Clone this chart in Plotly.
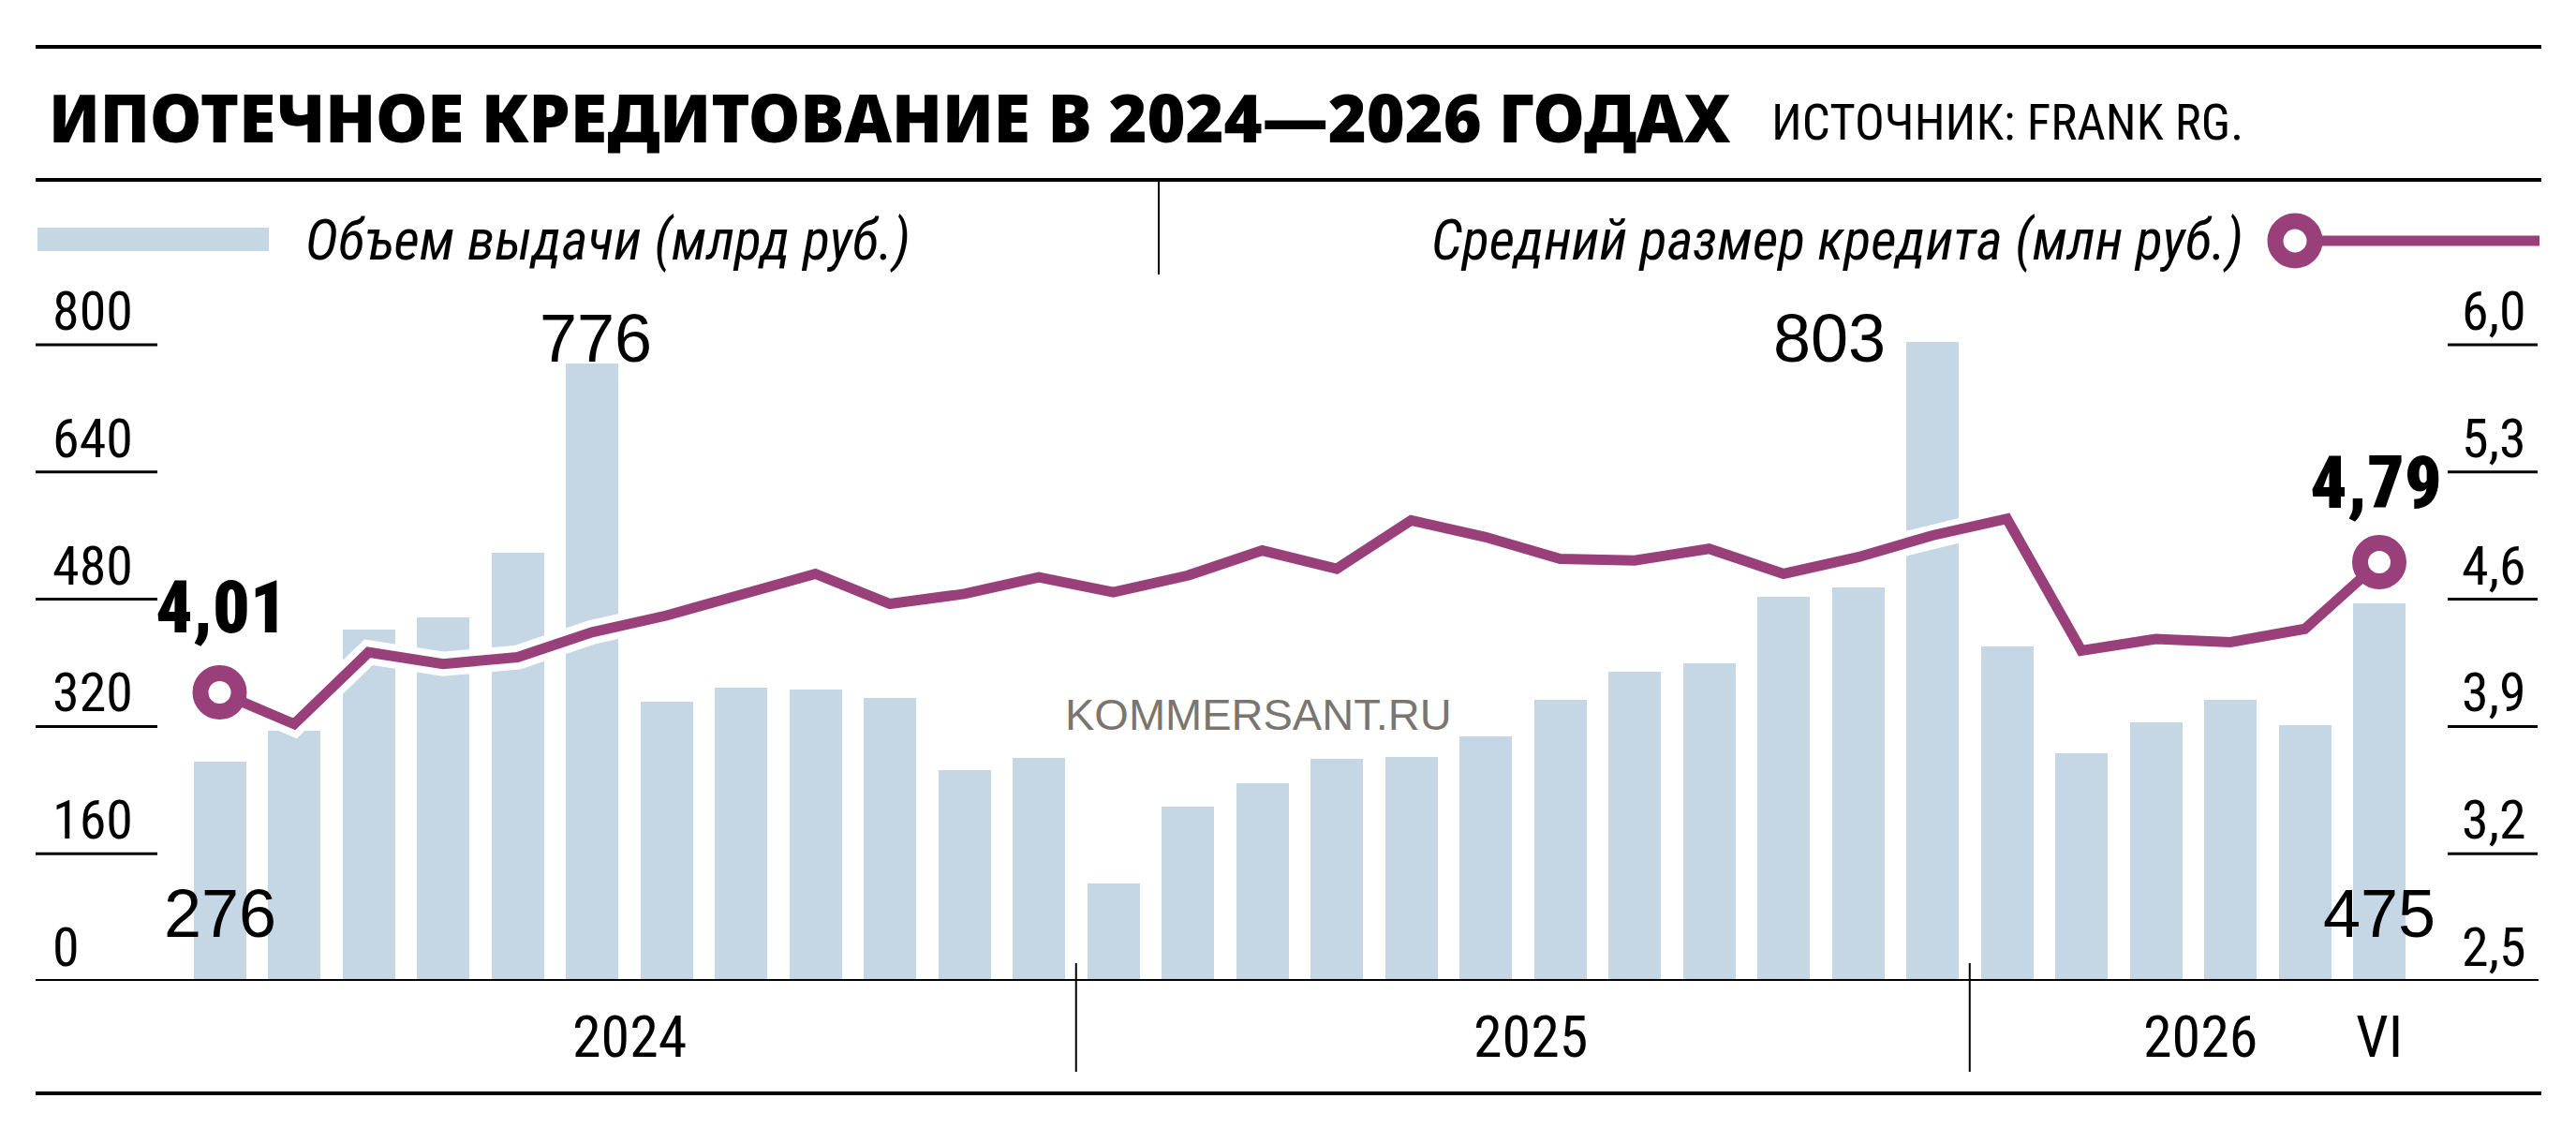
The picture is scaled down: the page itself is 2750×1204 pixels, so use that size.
import plotly.graph_objects as go

W, H = 2750, 1204

# ---------------- data ----------------
months = ["I.24", "II.24", "III.24", "IV.24", "V.24", "VI.24", "VII.24", "VIII.24", "IX.24", "X.24", "XI.24", "XII.24",
          "I.25", "II.25", "III.25", "IV.25", "V.25", "VI.25", "VII.25", "VIII.25", "IX.25", "X.25", "XI.25", "XII.25",
          "I.26", "II.26", "III.26", "IV.26", "V.26", "VI.26"]
volume = [276, 314, 442, 457, 538, 776, 351, 369, 366, 356, 265, 280,
          122, 219, 248, 279, 281, 307, 353, 389, 399, 483, 495, 803,
          420, 286, 325, 353, 322, 475]
avg_loan = [4.01, 3.82, 4.25, 4.18, 4.22, 4.37, 4.47, 4.60, 4.72, 4.54, 4.60, 4.70,
            4.61, 4.71, 4.86, 4.75, 5.04, 4.94, 4.81, 4.80, 4.87, 4.72, 4.82, 4.95,
            5.05, 4.26, 4.33, 4.31, 4.39, 4.79]
left_ticks = [0, 160, 320, 480, 640, 800]
right_ticks = [2.5, 3.2, 3.9, 4.6, 5.3, 6.0]
right_tick_labels = ["2,5", "3,2", "3,9", "4,6", "5,3", "6,0"]
year_labels = ["2024", "2025", "2026", "VI"]
year_label_pos = [5.5, 17.6, 26.6, 29]
year_breaks = [11.5, 23.5]
volume_labels = {0: "276", 5: "776", 23: "803", 29: "475"}
avg_labels = {0: "4,01", 29: "4,79"}

TITLE = "ИПОТЕЧНОЕ КРЕДИТОВАНИЕ В 2024—2026 ГОДАХ"
SOURCE = "ИСТОЧНИК: FRANK RG."
LEG1 = "Объем выдачи (млрд руб.)"
LEG2 = "Средний размер кредита (млн руб.)"
WATERMARK = "KOMMERSANT.RU"

# ---------------- styles ----------------
BAR = "#c5d6e5"
PURPLE = "#99407b"
COND = "Noto Sans Condensed, Roboto Condensed, Liberation Sans Narrow, Roboto, sans-serif"
REG = "Liberation Sans, Arial, sans-serif"
HEAVY = "Noto Sans, Liberation Sans, sans-serif"


def px(x):
    return x / W


def py(y):
    return 1 - y / H


X0, X1 = 194.75, 2579.75     # pixel span of x range [-0.5, 29.5]
Y_BASE = 1047                # pixel of value 0
PPU = 679 / 800              # pixels per unit on left axis
YMAX = 900
Y_TOPPX = Y_BASE - YMAX * PPU
R2 = (2.5, 2.5 + YMAX / 800 * 3.5)
R3 = (2.2815, 2.2815 + YMAX / 800 * (6.092 - 2.2815))

fig = go.Figure()
fig.add_trace(go.Bar(x=months, y=volume, marker=dict(color=BAR, line=dict(width=0)),
                     width=0.7, yaxis="y", hoverinfo="skip"))
fig.add_trace(go.Scatter(x=months, y=avg_loan, mode="lines", yaxis="y3",
                         line=dict(color="white", width=26), hoverinfo="skip"))
fig.add_trace(go.Scatter(x=months, y=avg_loan, mode="lines", yaxis="y3",
                         line=dict(color=PURPLE, width=11), hoverinfo="skip"))
fig.add_trace(go.Scatter(x=[months[0], months[-1]], y=[avg_loan[0], avg_loan[-1]], mode="markers",
                         yaxis="y3", hoverinfo="skip",
                         marker=dict(size=41, color="white", line=dict(color=PURPLE, width=17))))

shapes = []
for yy in (50, 192, 1167):
    shapes.append(dict(type="line", xref="paper", yref="paper", x0=px(38), x1=px(2713),
                       y0=py(yy), y1=py(yy), line=dict(color="black", width=4)))
shapes.append(dict(type="line", xref="paper", yref="paper", x0=px(1237), x1=px(1237),
                   y0=py(193), y1=py(293), line=dict(color="black", width=2)))
shapes.append(dict(type="rect", xref="paper", yref="paper", x0=px(40), x1=px(287),
                   y0=py(268), y1=py(243), fillcolor=BAR, line=dict(width=0)))
shapes.append(dict(type="line", xref="paper", yref="paper", x0=px(2450), x1=px(2711),
                   y0=py(257), y1=py(257), line=dict(color=PURPLE, width=11)))
shapes.append(dict(type="circle", xref="paper", yref="paper", x0=px(2450 - 21), x1=px(2450 + 21),
                   y0=py(257 + 21), y1=py(257 - 21), fillcolor="white",
                   line=dict(color=PURPLE, width=17)))
for t in left_ticks[1:]:
    shapes.append(dict(type="line", xref="paper", yref="y", x0=px(38), x1=px(168),
                       y0=t, y1=t, line=dict(color="black", width=3)))
for t in right_ticks[1:]:
    shapes.append(dict(type="line", xref="paper", yref="y2", x0=px(2613), x1=px(2709),
                       y0=t, y1=t, line=dict(color="black", width=3)))
shapes.append(dict(type="line", xref="paper", yref="y", x0=px(38), x1=px(2710),
                   y0=0, y1=0, line=dict(color="black", width=4)))
for b in year_breaks:
    shapes.append(dict(type="line", xref="x", yref="paper", x0=b, x1=b,
                       y0=py(1028), y1=py(1144), line=dict(color="black", width=2)))

ann = []
ann.append(dict(text=TITLE, xref="paper", yref="paper", x=px(50), y=py(124.5),
                xanchor="left", yanchor="middle", showarrow=False,
                font=dict(family=HEAVY, size=70, color="black", weight=900)))
ann.append(dict(text=SOURCE, xref="paper", yref="paper", x=px(1889), y=py(131),
                xanchor="left", yanchor="middle", showarrow=False,
                font=dict(family=COND, size=53, color="black")))
ann.append(dict(text="<i>" + LEG1 + "</i>", xref="paper", yref="paper", x=px(324), y=py(256),
                xanchor="left", yanchor="middle", showarrow=False,
                font=dict(family=COND, size=60, color="black")))
ann.append(dict(text="<i>" + LEG2 + "</i>", xref="paper", yref="paper", x=px(2397), y=py(256),
                xanchor="right", yanchor="middle", showarrow=False,
                font=dict(family=COND, size=60, color="black")))
ann.append(dict(text=WATERMARK, xref="paper", yref="paper", x=px(1343), y=py(762),
                xanchor="center", yanchor="middle", showarrow=False,
                font=dict(family=REG, size=47, color="#7a766f")))
for t in left_ticks:
    ann.append(dict(text=str(t), xref="paper", yref="y", x=px(54), y=t, yshift=36,
                    xanchor="left", yanchor="middle", showarrow=False,
                    font=dict(family=COND, size=58, color="black")))
for t, lab in zip(right_ticks, right_tick_labels):
    ann.append(dict(text=lab, xref="paper", yref="y2", x=px(2699), y=t, yshift=36,
                    xanchor="right", yanchor="middle", showarrow=False,
                    font=dict(family=COND, size=58, color="black")))
for lab, pos in zip(year_labels, year_label_pos):
    ann.append(dict(text=lab, xref="x", yref="paper", x=pos, y=py(1106),
                    xanchor="center", yanchor="middle", showarrow=False,
                    font=dict(family=COND, size=62, color="black")))
vol_shift = {0: (0, 72, False), 5: (4, 27, True), 23: (-110, 4, True), 29: (0, 72, False)}
for i, lab in volume_labels.items():
    dx, dy, at_top = vol_shift[i]
    yv = volume[i] if at_top else 0
    ann.append(dict(text=lab, xref="x", yref="y", x=i, y=yv, xshift=dx, yshift=dy,
                    xanchor="center", yanchor="middle", showarrow=False,
                    font=dict(family=REG, size=72, color="black")))
avg_shift = {0: 90, 29: 85}
avg_xshift = {0: 2, 29: -4}
for i, lab in avg_labels.items():
    ann.append(dict(text=lab, xref="x", yref="y3", x=i, y=avg_loan[i], xshift=avg_xshift[i],
                    yshift=avg_shift[i], xanchor="center", yanchor="middle", showarrow=False,
                    font=dict(family=COND, size=78, color="black", weight=900)))

fig.update_layout(
    width=W, height=H, margin=dict(l=0, r=0, t=0, b=0),
    paper_bgcolor="white", plot_bgcolor="white", showlegend=False, bargap=0,
    xaxis=dict(type="category", domain=[px(X0), px(X1)], range=[-0.5, 29.5], visible=False, fixedrange=True),
    yaxis=dict(domain=[py(Y_BASE), py(Y_TOPPX)], range=[0, YMAX], visible=False),
    yaxis2=dict(overlaying="y", range=list(R2), visible=False),
    yaxis3=dict(overlaying="y", range=list(R3), visible=False),
    shapes=shapes, annotations=ann,
)

fig.write_html("out.html")
